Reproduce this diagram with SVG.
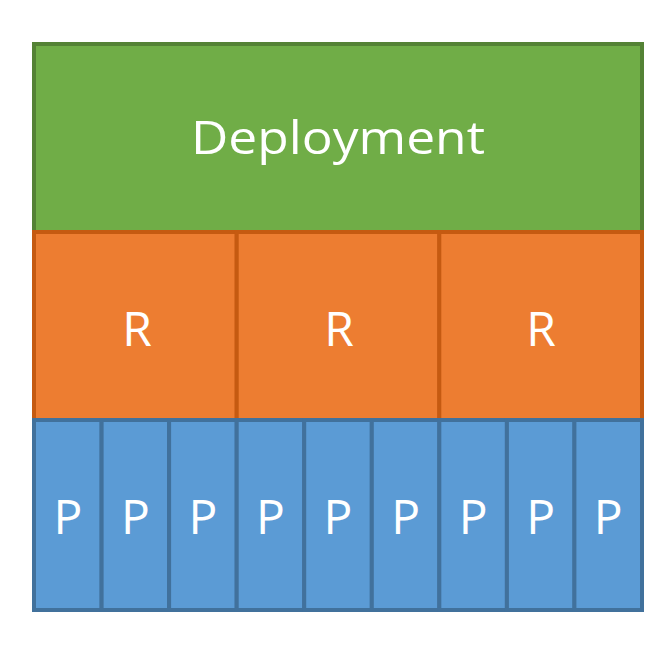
<svg xmlns="http://www.w3.org/2000/svg" width="668" height="664" viewBox="0 0 668 664">
<style>
.g{fill:#70AD47;stroke:#548235;stroke-width:4}
.o{fill:#ED7D31;stroke:#C55A11;stroke-width:4}
.b{fill:#5B9BD5;stroke:#41719C;stroke-width:4}
text{font-family:"Open Sans","Liberation Sans",sans-serif;fill:#fff;text-anchor:middle}
.t1{font-size:46px}
.t2{font-size:48px}
</style>
<rect width="668" height="664" fill="#fff"/>
<g id="deployment"><rect class="g" x="34" y="44" width="608" height="188"/><text class="t1" x="338" y="154" textLength="294" lengthAdjust="spacingAndGlyphs">Deployment</text></g>
<g id="r1"><rect class="o" x="34" y="232" width="202.7" height="188"/><text class="t2" x="137" y="346">R</text></g>
<g id="r2"><rect class="o" x="236.7" y="232" width="202.7" height="188"/><text class="t2" x="339" y="346">R</text></g>
<g id="r3"><rect class="o" x="439.3" y="232" width="202.7" height="188"/><text class="t2" x="541" y="346">R</text></g>
<g id="p1"><rect class="b" x="34" y="420" width="67.6" height="190"/><text class="t2" x="68" y="534">P</text></g>
<g id="p2"><rect class="b" x="101.6" y="420" width="67.6" height="190"/><text class="t2" x="135.4" y="534">P</text></g>
<g id="p3"><rect class="b" x="169.1" y="420" width="67.6" height="190"/><text class="t2" x="202.9" y="534">P</text></g>
<g id="p4"><rect class="b" x="236.7" y="420" width="67.6" height="190"/><text class="t2" x="270.5" y="534">P</text></g>
<g id="p5"><rect class="b" x="304.2" y="420" width="67.6" height="190"/><text class="t2" x="338" y="534">P</text></g>
<g id="p6"><rect class="b" x="371.8" y="420" width="67.6" height="190"/><text class="t2" x="405.6" y="534">P</text></g>
<g id="p7"><rect class="b" x="439.3" y="420" width="67.6" height="190"/><text class="t2" x="473.1" y="534">P</text></g>
<g id="p8"><rect class="b" x="506.9" y="420" width="67.6" height="190"/><text class="t2" x="540.7" y="534">P</text></g>
<g id="p9"><rect class="b" x="574.4" y="420" width="67.6" height="190"/><text class="t2" x="608.2" y="534">P</text></g>
<g id="connectors"></g>
</svg>
